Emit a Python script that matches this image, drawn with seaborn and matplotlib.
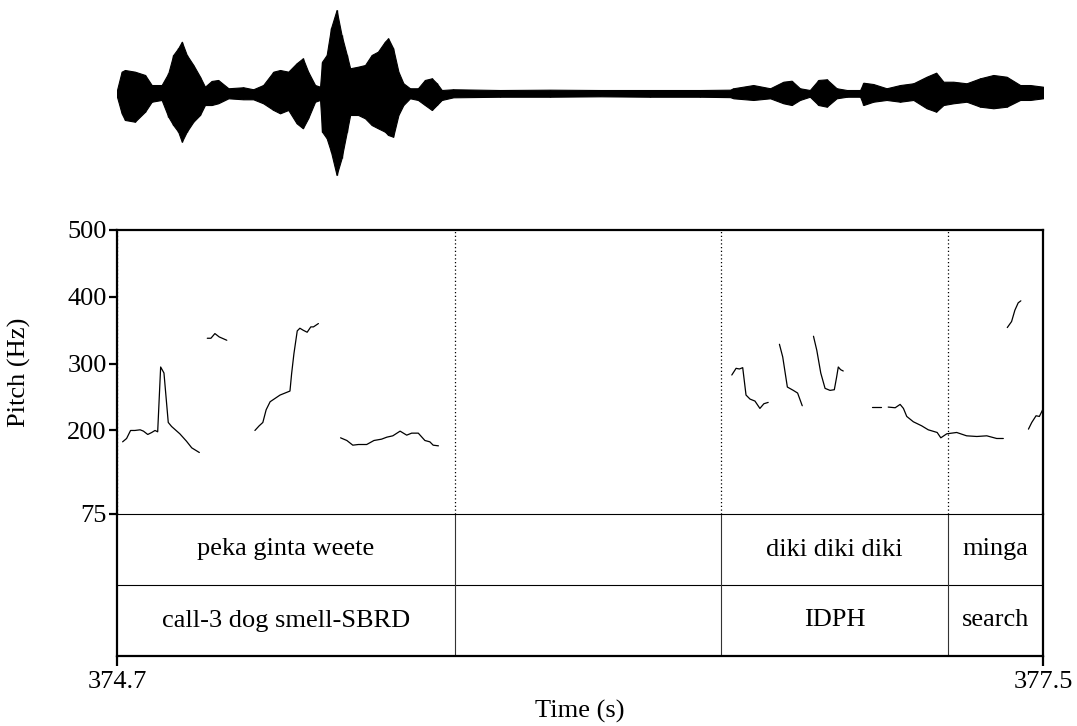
import numpy as np
import pandas as pd
import matplotlib
matplotlib.use("Agg")
import matplotlib.pyplot as plt
import seaborn as sns

# ---------------- data ----------------
T_START, T_END = 374.7, 377.5

wave_t = [374.700, 374.714, 374.724, 374.754, 374.785, 374.805, 374.835, 374.855, 374.870, 374.885,
          374.896, 374.911, 374.931, 374.951, 374.966, 374.986, 375.006, 375.037, 375.082, 375.112,
          375.142, 375.173, 375.193, 375.218, 375.243, 375.262, 375.278, 375.299, 375.314, 375.320,
          375.334, 375.347, 375.364, 375.379, 375.395, 375.405, 375.429, 375.450, 375.470, 375.489,
          375.510, 375.520, 375.535, 375.551, 375.566, 375.586, 375.610, 375.631, 375.652, 375.667,
          375.682, 375.717, 375.858, 376.010, 376.161, 376.312, 376.463, 376.554, 376.564, 376.624,
          376.675, 376.715, 376.740, 376.765, 376.795, 376.821, 376.846, 376.876, 376.907, 376.947,
          376.957, 376.987, 377.027, 377.068, 377.108, 377.148, 377.177, 377.199, 377.229, 377.269,
          377.310, 377.350, 377.390, 377.431, 377.461, 377.500]
wave_up = [0.036, 0.257, 0.277, 0.257, 0.217, 0.096, 0.096, 0.237, 0.458, 0.539,
           0.618, 0.458, 0.337, 0.197, 0.076, 0.145, 0.157, 0.057, 0.069, 0.045,
           0.096, 0.257, 0.277, 0.257, 0.358, 0.418, 0.257, 0.096, 0.076, 0.377,
           0.458, 0.780, 1.000, 0.699, 0.458, 0.298, 0.317, 0.337, 0.458, 0.498,
           0.618, 0.659, 0.539, 0.257, 0.117, 0.057, 0.057, 0.157, 0.177, 0.117,
           0.036, 0.045, 0.036, 0.040, 0.036, 0.036, 0.036, 0.040, 0.057, 0.096,
           0.057, 0.136, 0.148, 0.057, 0.036, 0.157, 0.165, 0.057, 0.036, 0.036,
           0.124, 0.108, 0.057, 0.096, 0.117, 0.196, 0.245, 0.136, 0.136, 0.117,
           0.177, 0.217, 0.196, 0.096, 0.096, 0.076]
wave_lo = [-0.045, -0.245, -0.325, -0.346, -0.225, -0.105, -0.084, -0.285, -0.386, -0.466,
           -0.587, -0.466, -0.346, -0.265, -0.145, -0.145, -0.124, -0.064, -0.076, -0.076,
           -0.124, -0.205, -0.245, -0.205, -0.365, -0.425, -0.305, -0.105, -0.084, -0.466,
           -0.546, -0.707, -0.988, -0.787, -0.466, -0.265, -0.265, -0.305, -0.386, -0.425,
           -0.466, -0.506, -0.527, -0.265, -0.145, -0.064, -0.084, -0.145, -0.205, -0.145,
           -0.084, -0.052, -0.045, -0.045, -0.040, -0.045, -0.045, -0.050, -0.064, -0.084,
           -0.064, -0.124, -0.145, -0.084, -0.045, -0.145, -0.165, -0.064, -0.045, -0.045,
           -0.145, -0.105, -0.084, -0.105, -0.084, -0.184, -0.225, -0.145, -0.124, -0.105,
           -0.165, -0.184, -0.165, -0.084, -0.084, -0.064]

pitch_times = [
    [374.717, 374.729, 374.741, 374.754, 374.770, 374.780, 374.793, 374.805, 374.815, 374.823,
     374.832, 374.842, 374.855, 374.865, 374.890, 374.910, 374.926, 374.949],
    [374.973, 374.984, 374.996, 375.009, 375.032],
    [375.117, 375.130, 375.141, 375.151, 375.163, 375.175, 375.193, 375.208, 375.223, 375.228,
     375.235, 375.245, 375.253, 375.263, 375.275, 375.286, 375.294, 375.309],
    [375.376, 375.395, 375.413, 375.430, 375.455, 375.477, 375.500, 375.516, 375.534, 375.556,
     375.576, 375.591, 375.611, 375.631, 375.646, 375.656, 375.672],
    [376.559, 376.572, 376.582, 376.592, 376.602, 376.614, 376.629, 376.644, 376.656, 376.669],
    [376.703, 376.713, 376.727, 376.745, 376.758, 376.772],
    [376.806, 376.816, 376.828, 376.841, 376.856, 376.869, 376.876, 376.881, 376.888, 376.896],
    [376.982, 377.010],
    [377.032, 377.053, 377.068, 377.078, 377.088, 377.108, 377.133, 377.153, 377.180, 377.191,
     377.209, 377.239, 377.269, 377.300, 377.330, 377.360, 377.380],
    [377.392, 377.405, 377.415, 377.425, 377.433],
    [377.456, 377.466, 377.479, 377.489, 377.499],
]
pitch_hz = [
    [183, 188, 200, 200, 201, 199, 194, 197, 200, 198,
     295, 286, 212, 206, 195, 184, 174, 167],
    [338, 338, 345, 340, 335],
    [200, 207, 212, 231, 243, 247, 253, 256, 259, 285,
     315, 349, 353, 350, 347, 355, 355, 360],
    [189, 185, 178, 179, 179, 185, 187, 190, 192, 199,
     193, 196, 196, 185, 183, 178, 177],
    [283, 293, 292, 294, 253, 247, 244, 233, 240, 242],
    [329, 310, 265, 260, 256, 237],
    [341, 320, 286, 263, 260, 261, 280, 295, 291, 289],
    [235, 235],
    [235, 234, 239, 233, 221, 213, 207, 201, 197, 189,
     195, 197, 192, 191, 192, 188, 188],
    [354, 363, 380, 391, 394],
    [202, 212, 222, 221, 231],
]

tier_bounds = [374.7, 375.722, 376.526, 377.213, 377.5]
tier1_labels = ["peka ginta weete", "", "diki diki diki", "minga"]
tier2_labels = ["call-3 dog smell-SBRD", "", "IDPH", "search"]
pitch_ticks = [75, 200, 300, 400, 500]
time_ticks = [374.7, 377.5]

# ---------------- style ----------------
sns.set_style("white")
plt.rcParams["font.family"] = ["Liberation Serif", "DejaVu Serif"]
plt.rcParams["text.color"] = "black"
plt.rcParams["axes.labelcolor"] = "black"
plt.rcParams["xtick.color"] = "black"
plt.rcParams["ytick.color"] = "black"
FS = 19
THICK = 1.6
THIN = 0.8

rows = []
for i, (ts, hs) in enumerate(zip(pitch_times, pitch_hz)):
    for t, h in zip(ts, hs):
        rows.append({"seg": i, "t": t, "hz": h})
pitch_df = pd.DataFrame(rows)

fig = plt.figure(figsize=(10.77, 7.26), dpi=100)
L, W = 117 / 1077, 926 / 1077
ax_w = fig.add_axes([L, (726 - 178) / 726, W, 170 / 726])
ax_t = fig.add_axes([L, (726 - 656) / 726, W, 142 / 726])
ax_p = fig.add_axes([L, (726 - 514) / 726, W, 284 / 726])
ax_t.patch.set_alpha(0)
ax_p.patch.set_alpha(0)

# waveform
ax_w.fill_between(wave_t, wave_lo, wave_up, color="black", linewidth=0.8)
ax_w.vlines(wave_t, wave_lo, wave_up, colors="black", linewidth=1.0)
ax_w.set_xlim(T_START, T_END)
ax_w.set_ylim(-1.024, 1.024)
ax_w.axis("off")

# pitch
sns.lineplot(data=pitch_df, x="t", y="hz", units="seg", estimator=None, sort=False,
             color="black", linewidth=0.9, ax=ax_p)
ax_p.set_xlim(T_START, T_END)
ax_p.set_ylim(75, 500)
ax_p.vlines(tier_bounds[:-1], 75, 500, colors="black", linestyles=(0, (1, 2)), linewidth=0.9)
ax_p.set_yticks(pitch_ticks)
ax_p.set_yticklabels([str(v) for v in pitch_ticks], fontsize=FS)
ax_p.set_xticks([])
ax_p.set_xlabel("")
ax_p.set_ylabel("Pitch (Hz)", fontsize=FS)
ax_p.yaxis.set_label_coords((31 - 117) / 926, 0.5)
ax_p.tick_params(axis="y", direction="out", length=6, width=THICK, pad=1.5, left=True)
for s in ["top", "left", "right"]:
    ax_p.spines[s].set_linewidth(THICK)
    ax_p.spines[s].set_color("black")
ax_p.spines["bottom"].set_linewidth(THIN)
ax_p.spines["bottom"].set_color("black")

# tiers
ax_t.set_xlim(T_START, T_END)
ax_t.set_ylim(0, 2)
ax_t.axhline(1, color="black", linewidth=THIN)
ax_t.vlines(tier_bounds[1:-1], 0, 2, colors="#333333", linewidth=THIN)
for i in range(len(tier1_labels)):
    c = (tier_bounds[i] + tier_bounds[i + 1]) / 2
    if tier1_labels[i]:
        ax_t.text(c, 1.5, tier1_labels[i], ha="center", va="center", fontsize=FS)
    if tier2_labels[i]:
        ax_t.text(c, 0.5, tier2_labels[i], ha="center", va="center", fontsize=FS)
ax_t.set_yticks([])
ax_t.set_xticks(time_ticks)
ax_t.set_xticklabels([f"{v:.1f}" for v in time_ticks], fontsize=FS)
ax_t.tick_params(axis="x", direction="out", length=7, width=THICK, pad=4, bottom=True)
ax_t.set_xlabel("Time (s)", fontsize=FS, labelpad=5)
ax_t.spines["top"].set_visible(False)
for s in ["left", "right", "bottom"]:
    ax_t.spines[s].set_linewidth(THICK)
    ax_t.spines[s].set_color("black")

fig.savefig("out.png", dpi=100, facecolor="white")
